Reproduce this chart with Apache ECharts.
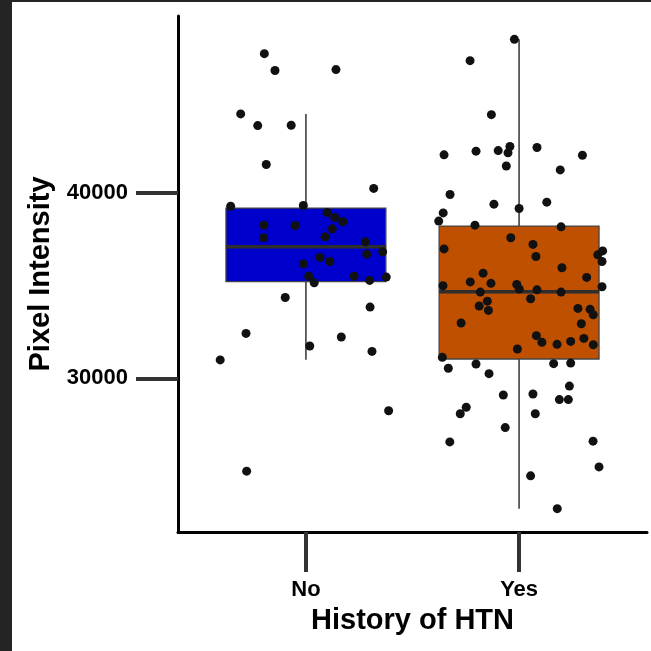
<!DOCTYPE html>
<html>
<head>
<meta charset="utf-8">
<script src="https://cdn.jsdelivr.net/npm/echarts@6/dist/echarts.min.js"></script>
<style>
  html, body { margin: 0; padding: 0; background: #fff; }
  #chart { position: absolute; left: 0; top: 0; width: 651px; height: 651px; }
  .edge { position: absolute; background: #242424; z-index: 2; }
</style>
</head>
<body>
<div id="chart"></div>
<div class="edge" style="left:0;top:0;width:12px;height:651px"></div>
<div class="edge" style="left:0;top:0;width:651px;height:2px"></div>
<script>
const groups = ['No', 'Yes']
const groupPos = [1, 2]

// [lower whisker, Q1, median, Q3, upper whisker]
const noStats = [31000, 35210, 37090, 39180, 44260]
const yesStats = [22970, 31040, 34670, 38210, 48280]

// jittered points: [x position, pixel intensity]
const noPoints = [
  [0.805, 47510], [0.855, 46600], [1.141, 46650], [0.694, 44260], [0.774, 43630],
  [0.931, 43650], [0.814, 41530], [1.318, 40240], [0.647, 39280], [0.988, 39320],
  [1.099, 38940], [1.135, 38670], [1.173, 38440], [0.803, 38260], [0.949, 38240],
  [1.124, 38060], [0.802, 37580], [1.090, 37630], [1.279, 37360], [1.360, 36820],
  [1.285, 36700], [1.066, 36520], [0.988, 36170], [1.112, 36300], [1.226, 35510],
  [1.013, 35500], [1.039, 35150], [1.299, 35280], [1.377, 35460], [0.903, 34360],
  [1.301, 33840], [0.719, 32420], [1.166, 32230], [1.018, 31740], [0.598, 30990],
  [1.310, 31450], [1.388, 28250], [0.722, 24990]
]

const yesPoints = [
  [1.978, 48280], [1.770, 47130], [1.870, 44220], [1.648, 42050], [1.798, 42250],
  [1.902, 42280], [1.957, 42500], [1.948, 42160], [2.084, 42450], [2.297, 42030],
  [1.940, 41450], [2.193, 41240], [1.676, 39910], [1.882, 39390], [2.130, 39500],
  [2.000, 39160], [1.644, 38920], [1.623, 38480], [1.793, 38260], [2.197, 38170],
  [1.961, 37580], [2.065, 37220], [1.648, 36980], [2.079, 36570], [2.369, 36660],
  [2.392, 36870], [2.389, 36300], [2.201, 35960], [1.831, 35670], [1.771, 35200],
  [1.868, 35120], [2.317, 35440], [1.643, 34990], [1.989, 35060], [2.001, 34810],
  [2.084, 34770], [1.818, 34650], [2.197, 34650], [2.389, 34940], [2.054, 34290],
  [1.851, 34160], [1.813, 33900], [1.856, 33660], [2.276, 33770], [2.333, 33720],
  [2.348, 33430], [2.292, 32940], [1.728, 32980], [2.081, 32300], [2.107, 31940],
  [2.178, 31830], [2.242, 31990], [2.304, 32150], [2.348, 31810], [1.992, 31580],
  [1.640, 31130], [1.798, 30770], [2.162, 30790], [2.242, 30820], [1.668, 30540],
  [1.859, 30250], [2.236, 29580], [1.926, 29100], [2.065, 29150], [2.189, 28850],
  [2.231, 28850], [1.752, 28440], [1.724, 28090], [2.076, 28090], [1.935, 27340],
  [1.675, 26570], [2.347, 26610], [2.375, 25220], [2.054, 24740], [2.179, 22970]
]

const yTicks = [30000, 40000]
const boxColors = ['#0000CC', '#BF5000']
const FONT = '"Liberation Sans", Arial, sans-serif'

const chart = echarts.init(document.getElementById('chart'))

function renderBox(params, api) {
  const x = api.value(0)
  const lo = api.value(1), q1 = api.value(2), med = api.value(3), q3 = api.value(4), hi = api.value(5)
  const half = 0.375
  const tl = api.coord([x - half, q3])
  const br = api.coord([x + half, q1])
  const cTop = api.coord([x, hi])
  const cQ3 = api.coord([x, q3])
  const cQ1 = api.coord([x, q1])
  const cLo = api.coord([x, lo])
  const mL = api.coord([x - half, med])
  const mR = api.coord([x + half, med])
  const lineStyle = { stroke: '#555', lineWidth: 1.8 }
  return {
    type: 'group',
    children: [
      { type: 'line', shape: { x1: cTop[0], y1: cTop[1], x2: cQ3[0], y2: cQ3[1] }, style: lineStyle },
      { type: 'line', shape: { x1: cQ1[0], y1: cQ1[1], x2: cLo[0], y2: cLo[1] }, style: lineStyle },
      {
        type: 'rect',
        shape: { x: tl[0], y: tl[1], width: br[0] - tl[0], height: br[1] - tl[1] },
        style: { fill: boxColors[params.dataIndex], stroke: '#444', lineWidth: 1.3 }
      },
      { type: 'line', shape: { x1: mL[0], y1: mL[1], x2: mR[0], y2: mR[1] }, style: { stroke: '#2e2e2e', lineWidth: 3.5 } }
    ]
  }
}

const option = {
  animation: false,
  backgroundColor: '#fff',
  grid: { left: 178, right: 4, top: 16, bottom: 119 },
  xAxis: {
    type: 'value',
    min: 0.4,
    max: 2.6,
    name: 'History of HTN',
    nameLocation: 'middle',
    nameGap: 74,
    nameTextStyle: { color: '#000', fontSize: 29, fontWeight: 'bold', fontFamily: FONT },
    axisLine: { show: true, onZero: false, lineStyle: { color: '#000', width: 3 } },
    axisTick: { show: true, customValues: groupPos, length: 40, lineStyle: { color: '#333', width: 4 } },
    axisLabel: {
      customValues: groupPos,
      formatter: (v) => groups[groupPos.indexOf(v)] || '',
      color: '#000', fontSize: 22, fontWeight: 'bold', fontFamily: FONT, margin: 47
    },
    splitLine: { show: false }
  },
  yAxis: {
    type: 'value',
    min: 21710,
    max: 49540,
    name: 'Pixel Intensity',
    nameLocation: 'middle',
    nameGap: 118,
    nameTextStyle: { color: '#000', fontSize: 29, fontWeight: 'bold', fontFamily: FONT },
    axisLine: { show: true, onZero: false, lineStyle: { color: '#000', width: 3 } },
    axisTick: { show: true, customValues: yTicks, length: 42, lineStyle: { color: '#333', width: 4 } },
    axisLabel: {
      customValues: yTicks,
      formatter: (v) => String(v),
      color: '#000', fontSize: 22, fontWeight: 'bold', fontFamily: FONT, margin: 50
    },
    splitLine: { show: false }
  },
  series: [
    {
      type: 'custom',
      renderItem: renderBox,
      encode: { x: 0, y: [1, 2, 3, 4, 5] },
      data: [[groupPos[0], ...noStats], [groupPos[1], ...yesStats]],
      z: 1
    },
    {
      type: 'scatter',
      data: noPoints,
      symbolSize: 9,
      itemStyle: { color: '#111', opacity: 1 },
      z: 3
    },
    {
      type: 'scatter',
      data: yesPoints,
      symbolSize: 9,
      itemStyle: { color: '#111', opacity: 1 },
      z: 3
    }
  ]
}

chart.setOption(option)
</script>
</body>
</html>
